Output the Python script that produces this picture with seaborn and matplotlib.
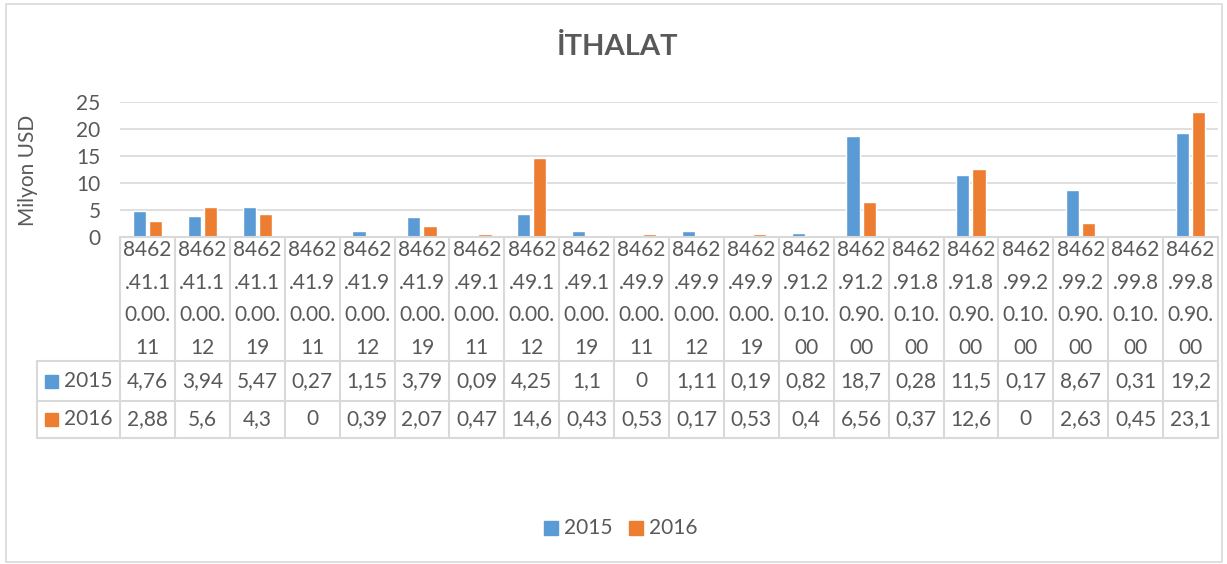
import matplotlib.pyplot as plt
import matplotlib.transforms as mtransforms
import seaborn as sns
import pandas as pd

# Data
codes = ["8462.41.10.00.11", "8462.41.10.00.12", "8462.41.10.00.19",
         "8462.41.90.00.11", "8462.41.90.00.12", "8462.41.90.00.19",
         "8462.49.10.00.11", "8462.49.10.00.12", "8462.49.10.00.19",
         "8462.49.90.00.11", "8462.49.90.00.12", "8462.49.90.00.19",
         "8462.91.20.10.00", "8462.91.20.90.00", "8462.91.80.10.00",
         "8462.91.80.90.00", "8462.99.20.10.00", "8462.99.20.90.00",
         "8462.99.80.10.00", "8462.99.80.90.00"]
years = ["2015", "2016"]
imp_2015 = [4.76, 3.94, 5.47, 0.27, 1.15, 3.79, 0.09, 4.25, 1.1, 0, 1.11, 0.19,
            0.82, 18.7, 0.28, 11.5, 0.17, 8.67, 0.31, 19.2]
imp_2016 = [2.88, 5.6, 4.3, 0, 0.39, 2.07, 0.47, 14.6, 0.43, 0.53, 0.17, 0.53,
            0.4, 6.56, 0.37, 12.6, 0, 2.63, 0.45, 23.1]
yticks = [0, 5, 10, 15, 20, 25]

colors = {"2015": "#5B9BD5", "2016": "#ED7D31"}
txt = "#595959"
grid = "#D9D9D9"
fs = 15

df = pd.DataFrame({
    "code": codes * 2,
    "year": ["2015"] * len(codes) + ["2016"] * len(codes),
    "value": imp_2015 + imp_2016,
})

sns.set_theme(style="white")
plt.rcParams['font.family'] = ['Lato', 'DejaVu Sans']

W, H = 1227, 564
fig = plt.figure(figsize=(W / 100, H / 100), dpi=100)

# axes placed in pixel terms
x0, x1, y0, y1 = 120, 1218, 237, 102
ax = fig.add_axes([x0 / W, 1 - y0 / H, (x1 - x0) / W, (y0 - y1) / H])

sns.barplot(data=df, x="code", y="value", hue="year", palette=colors,
            width=0.59, gap=0.18, ax=ax, legend=False, saturation=1)

ax.set_xlim(-0.5, len(codes) - 0.5)
ax.set_ylim(0, 25)
ax.set_yticks(yticks)
ax.set_yticklabels([str(t) for t in yticks], fontsize=fs, color=txt)
ax.tick_params(axis="y", length=0, pad=14)
ax.set_xticks([])
ax.set_xlabel("")
ax.set_ylabel("")
fig.text(28 / W, 1 - 170 / H, "Milyon USD", rotation=90, ha="center", va="center",
         fontsize=fs, color=txt)
for t in yticks[1:]:
    ax.axhline(t, color=grid, lw=1.2, zorder=0)
for s in ax.spines.values():
    s.set_visible(False)

# data table below the axes
tr = mtransforms.blended_transform_factory(ax.transData, fig.transFigure)
def fy(p):
    return 1 - p / H

row_cat, row_a, row_b = 361, 400.5, 438
lw = 1.5
n = len(codes)
fig.add_artist(plt.Line2D([-0.5, n - 0.5], [fy(y0), fy(y0)], transform=tr, color=grid, lw=lw))
for yy in [row_cat, row_a, row_b]:
    fig.add_artist(plt.Line2D([37 / W, x1 / W], [fy(yy), fy(yy)], transform=fig.transFigure, color=grid, lw=lw))
for i in range(n + 1):
    fig.add_artist(plt.Line2D([i - 0.5, i - 0.5], [fy(y0), fy(row_b)], transform=tr, color=grid, lw=lw))
fig.add_artist(plt.Line2D([37 / W, 37 / W], [fy(row_cat), fy(row_b)], transform=fig.transFigure, color=grid, lw=lw))

def fmt(v):
    return f"{v:g}".replace(".", ",")

for i, c in enumerate(codes):
    wrapped = "\n".join([c[:4], c[4:9], c[9:14], c[14:]])
    fig.text(i, fy((y0 + row_cat) / 2), wrapped, transform=tr, ha="center", va="center",
             fontsize=fs, color=txt, linespacing=1.8)
    fig.text(i, fy((row_cat + row_a) / 2), fmt(imp_2015[i]), transform=tr,
             ha="center", va="center", fontsize=fs, color=txt)
    fig.text(i, fy((row_a + row_b) / 2), fmt(imp_2016[i]), transform=tr,
             ha="center", va="center", fontsize=fs, color=txt)

for yr, (ya, yb) in zip(years, [(row_cat, row_a), (row_a, row_b)]):
    yc = (ya + yb) / 2
    fig.patches.append(plt.Rectangle((45 / W, fy(yc + 7)), 13 / W, 13 / H,
                                     transform=fig.transFigure, color=colors[yr]))
    fig.text(64 / W, fy(yc), yr, ha="left", va="center", fontsize=fs, color=txt)

# legend at the bottom
for yr, lx in zip(years, [544, 629]):
    fig.patches.append(plt.Rectangle((lx / W, fy(535)), 14 / W, 14 / H,
                                     transform=fig.transFigure, color=colors[yr]))
    fig.text((lx + 20) / W, fy(528), yr, ha="left", va="center", fontsize=fs, color=txt)

# title
fig.text(618 / W, fy(47), "İTHALAT", ha="center", va="center", fontsize=21,
         fontweight="bold", color=txt)

# chart border
fig.patches.append(plt.Rectangle((6 / W, 2 / H), 1216 / W, 558 / H, transform=fig.transFigure,
                                 fill=False, edgecolor=grid, lw=1.2))

fig.savefig("out.png", dpi=100)
